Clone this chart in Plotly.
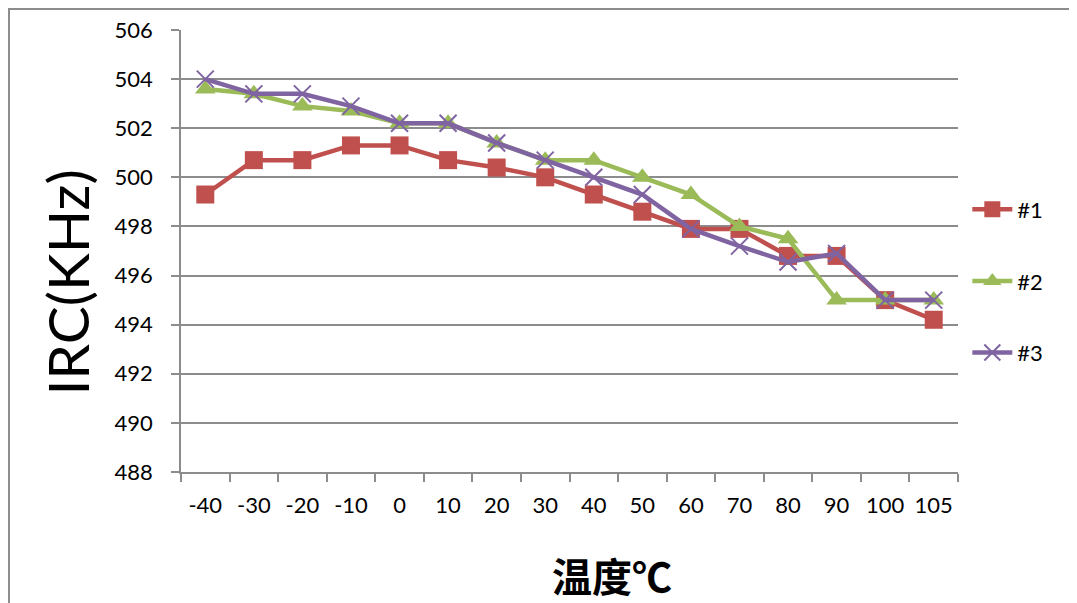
import plotly.graph_objects as go

temps = ["-40", "-30", "-20", "-10", "0", "10", "20", "30", "40",
         "50", "60", "70", "80", "90", "100", "105"]
irc_1 = [499.3, 500.7, 500.7, 501.3, 501.3, 500.7, 500.4, 500.0, 499.3,
         498.6, 497.9, 497.9, 496.8, 496.8, 495.0, 494.2]
irc_2 = [503.6, 503.4, 502.9, 502.7, 502.2, 502.2, 501.4, 500.7, 500.7,
         500.0, 499.3, 498.0, 497.5, 495.0, 495.0, 495.0]
irc_3 = [504.0, 503.4, 503.4, 502.9, 502.2, 502.2, 501.4, 500.7, 500.0,
         499.3, 497.9, 497.2, 496.55, 496.9, 495.0, 495.0]

GRID = "#8c8c8c"
FONT = "Lato, 'Noto Sans', sans-serif"

fig = go.Figure()

# series: name, data, colour, marker
series = [
    ("#1", irc_1, "#C0504D", dict(symbol="square", size=18)),
    ("#2", irc_2, "#9BBB59", dict(symbol="triangle-up", size=18)),
    ("#3", irc_3, "#8064A2", dict(symbol="x-thin", size=17,
                                  line=dict(width=2, color="#8064A2"))),
]
for name, vals, col, mk in series:
    mk = dict(mk, color=col)
    fig.add_trace(go.Scatter(
        x=temps, y=vals, name=name, legendgroup=name,
        mode="lines+markers",
        line=dict(color=col, width=4.5),
        marker=mk,
    ))

# outer chart border (Excel chart area) - sits on the figure edge
fig.add_shape(type="rect", xref="paper", yref="paper",
              x0=-0.2214, y0=-0.4, x1=1.3, y1=1.0475,
              line=dict(color="#8c8c8c", width=2), layer="below")

fig.add_annotation(text="IRC(KHz)", xref="paper", yref="paper",
                   x=-0.147, y=0.428, textangle=-90, showarrow=False,
                   xanchor="center", yanchor="middle",
                   font=dict(family=FONT, size=57, color="black"))
fig.add_annotation(text="<b>温度℃</b>", xref="paper", yref="paper",
                   x=0.5547, y=-0.232, showarrow=False,
                   xanchor="center", yanchor="middle",
                   font=dict(family="'Noto Sans CJK SC', sans-serif",
                             size=40, color="black"))

fig.update_xaxes(
    type="category", showgrid=False, automargin=False,
    range=[-0.5, len(temps) - 0.5],
    showline=True, linecolor=GRID, linewidth=1.5,
    ticks="outside", tickson="boundaries", ticklen=8,
    tickcolor=GRID, tickwidth=1.5, tickangle=0, ticklabelstandoff=13,
    tickfont=dict(family=FONT, size=22, color="black"),
)
fig.update_yaxes(
    range=[488, 506], dtick=2, tick0=488, automargin=False,
    showgrid=True, gridcolor=GRID, gridwidth=1.8,
    showline=True, linecolor=GRID, linewidth=1.5,
    ticks="outside", ticklen=8, tickcolor=GRID, tickwidth=1.5,
    ticklabelstandoff=14,
    tickfont=dict(family=FONT, size=22, color="black"),
    zeroline=False,
)

# page body has an 8px margin, so the figure is shrunk to fit the window
fig.update_layout(
    width=1069, height=595,
    margin=dict(l=173, r=119, t=22, b=131),
    paper_bgcolor="white", plot_bgcolor="white",
    legend=dict(x=1.012, y=0.432, xanchor="left", yanchor="middle",
                tracegroupgap=40, itemwidth=40,
                font=dict(family=FONT, size=22, color="black")),
)

fig.write_html("out.html")
